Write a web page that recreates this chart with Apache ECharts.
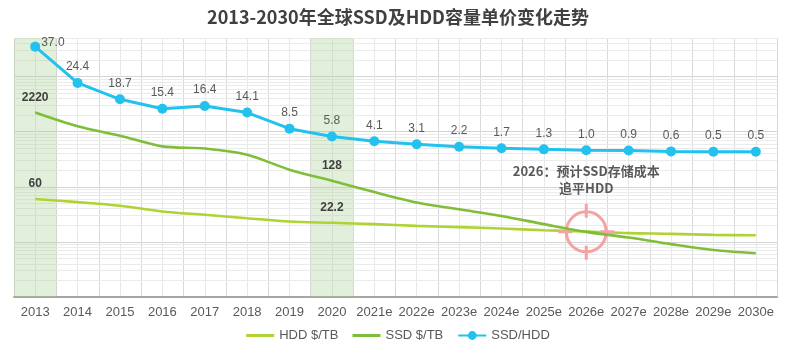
<!DOCTYPE html>
<html>
<head>
<meta charset="utf-8">
<script src="https://cdn.jsdelivr.net/npm/echarts@6/dist/echarts.min.js"></script>
<style>
  html, body { margin: 0; padding: 0; background: #ffffff; }
  #chart { width: 796px; height: 346px; }
</style>
</head>
<body>
<div id="chart"></div>
<script>
// Years on the horizontal axis (e = estimate)
const years = ['2013', '2014', '2015', '2016', '2017', '2018', '2019', '2020',
  '2021e', '2022e', '2023e', '2024e', '2025e', '2026e', '2027e', '2028e', '2029e', '2030e'];

// HDD price per TB (USD)
const hddPerTB = [60, 52.7, 45.1, 35.6, 31.0, 26.9, 23.4, 22.2, 21.0, 19.5, 18.5, 17.5, 16.3, 15.4, 14.4, 14.0, 13.4, 13.2];

// SSD price per TB (USD)
const ssdPerTB = [2220, 1250, 846, 540, 495, 382, 204, 128, 80, 52, 39, 29.5, 21, 15.2, 12, 9.1, 7.1, 6.2];

// SSD / HDD price ratio
const ssdHddRatio = [37.0, 24.4, 18.7, 15.4, 16.4, 14.1, 8.5, 5.8, 4.1, 3.1, 2.2, 1.7, 1.3, 1.0, 0.9, 0.6, 0.5, 0.5];

// Years whose price values are called out and shaded
const highlightYears = ['2013', '2020'];

// Year in which SSD cost per TB meets HDD
const parityYear = '2026e';
const parityNote = '2026：预计SSD存储成本\n追平HDD';

const chartTitle = '2013-2030年全球SSD及HDD容量单价变化走势';

// Minor log gridlines (2..9 of each decade)
const minorLevels = [];
for (let d = 1; d <= 10000; d *= 10) {
  for (let k = 2; k <= 9; k++) {
    if (k * d <= 50000) minorLevels.push(k * d);
  }
}

const FONT = '"Liberation Sans", Arial, sans-serif';
const CJK = '"Noto Sans CJK SC", sans-serif';
const hddColor = '#afd235';
const ssdColor = '#80bd38';
const ratioColor = '#22c1ee';
const lineIcon = 'path://M0,0L28,0L28,3L0,3Z';

const calloutLabel = (arr) => arr.map((v, i) => {
  if (highlightYears.includes(years[i])) {
    return {
      value: v,
      label: {
        show: true, position: 'top', distance: 9,
        fontFamily: FONT, fontSize: 12, fontWeight: 'bold', color: '#404040',
        formatter: String(v)
      }
    };
  }
  return v;
});

const chart = echarts.init(document.getElementById('chart'), null, { renderer: 'canvas' });

chart.setOption({
  animation: false,
  backgroundColor: '#ffffff',
  title: {
    text: chartTitle,
    left: 'center',
    top: 3,
    textStyle: {
      fontFamily: CJK,
      fontSize: 18,
      fontWeight: 'bold',
      color: '#404040'
    }
  },
  legend: {
    data: [
      { name: 'HDD $/TB', icon: lineIcon },
      { name: 'SSD $/TB', icon: lineIcon },
      { name: 'SSD/HDD' }
    ],
    left: 'center',
    top: 324,
    itemWidth: 28,
    itemHeight: 11,
    itemGap: 14,
    textStyle: { fontFamily: FONT, fontSize: 13, color: '#595959' }
  },
  grid: { left: 14, right: 19, top: 38, bottom: 49, containLabel: false },
  xAxis: [
    {
      type: 'category',
      data: years,
      boundaryGap: true,
      axisLine: { onZero: false, lineStyle: { color: '#a6a6a6', width: 2 } },
      axisTick: { show: false },
      splitLine: { show: false },
      axisLabel: { fontFamily: FONT, fontSize: 13, color: '#595959', margin: 9, interval: 0 }
    },
    {
      // half-category grid for the vertical lines
      type: 'value',
      min: 0,
      max: years.length * 2,
      interval: 2,
      show: true,
      axisLine: { show: false },
      axisTick: { show: false },
      axisLabel: { show: false },
      splitLine: { show: true, lineStyle: { color: '#d9d9d9', width: 1 } },
      minorTick: { show: false, splitNumber: 2 },
      minorSplitLine: { show: true, lineStyle: { color: '#e8e8e8', width: 1 } }
    }
  ],
  yAxis: [
    {
      type: 'log',
      logBase: 10,
      min: 1,
      max: 50000,
      axisLine: { show: false },
      axisTick: { show: false },
      axisLabel: { show: false },
      splitLine: { show: true, lineStyle: { color: '#d4d4d4', width: 1 } }
    },
    {
      type: 'value',
      min: -50,
      max: 40,
      show: false,
      splitLine: { show: false }
    },
    {
      type: 'value',
      min: 0,
      max: 1,
      show: false,
      splitLine: { show: false }
    }
  ],
  series: [
    {
      name: 'bands',
      type: 'bar',
      xAxisIndex: 0,
      yAxisIndex: 2,
      barWidth: '100%',
      silent: true,
      z: 1,
      itemStyle: { color: 'rgba(158,202,132,0.3)' },
      data: years.map(y => highlightYears.includes(y) ? 1 : '-')
    },
    {
      name: 'HDD $/TB',
      type: 'line',
      xAxisIndex: 0,
      yAxisIndex: 0,
      smooth: 0.3,
      showSymbol: true,
      symbol: 'circle',
      symbolSize: 0,
      z: 4,
      lineStyle: { color: hddColor, width: 2.6 },
      itemStyle: { color: hddColor },
      data: calloutLabel(hddPerTB),
      markLine: {
        silent: true,
        symbol: ['none', 'none'],
        z: 0,
        label: { show: false },
        lineStyle: { color: '#ebebeb', width: 1, type: 'solid' },
        emphasis: { disabled: true },
        data: minorLevels.map(v => ({ yAxis: v }))
      }
    },
    {
      name: 'SSD $/TB',
      type: 'line',
      xAxisIndex: 0,
      yAxisIndex: 0,
      smooth: 0.3,
      showSymbol: true,
      symbol: 'circle',
      symbolSize: 0,
      z: 5,
      lineStyle: { color: ssdColor, width: 2.6 },
      itemStyle: { color: ssdColor },
      data: calloutLabel(ssdPerTB),
      markPoint: {
        silent: true,
        data: [
          {
            coord: [parityYear, ssdPerTB[years.indexOf(parityYear)]],
            symbol: 'path://M-20,0A20,20,0,1,1,20,0A20,20,0,1,1,-20,0ZM-28,0L-14,0M14,0L28,0M0,-28L0,-14M0,14L0,28',
            symbolSize: 56,
            itemStyle: { color: 'rgba(0,0,0,0)', borderColor: '#f4a3a3', borderWidth: 3 },
            label: { show: false }
          },
          {
            coord: [parityYear, ssdPerTB[years.indexOf(parityYear)]],
            symbol: 'circle',
            symbolSize: 0,
            label: {
              show: true,
              position: 'inside',
              offset: [0, -52],
              formatter: parityNote,
              fontFamily: CJK,
              fontSize: 13,
              fontWeight: 'bold',
              lineHeight: 17,
              align: 'center',
              color: '#595959'
            }
          }
        ]
      }
    },
    {
      name: 'SSD/HDD',
      type: 'line',
      xAxisIndex: 0,
      yAxisIndex: 1,
      smooth: false,
      symbol: 'circle',
      symbolSize: 10,
      showAllSymbol: true,
      z: 6,
      lineStyle: { color: ratioColor, width: 3 },
      itemStyle: { color: ratioColor },
      label: {
        show: true,
        position: 'top',
        distance: 5,
        fontFamily: FONT,
        fontSize: 12,
        color: '#595959',
        formatter: (p) => Number(p.value).toFixed(1)
      },
      data: ssdHddRatio.map((v, i) => i === 0
        ? { value: v, label: { position: 'right', distance: 1, offset: [0, -4] } }
        : v)
    }
  ]
});
</script>
</body>
</html>
